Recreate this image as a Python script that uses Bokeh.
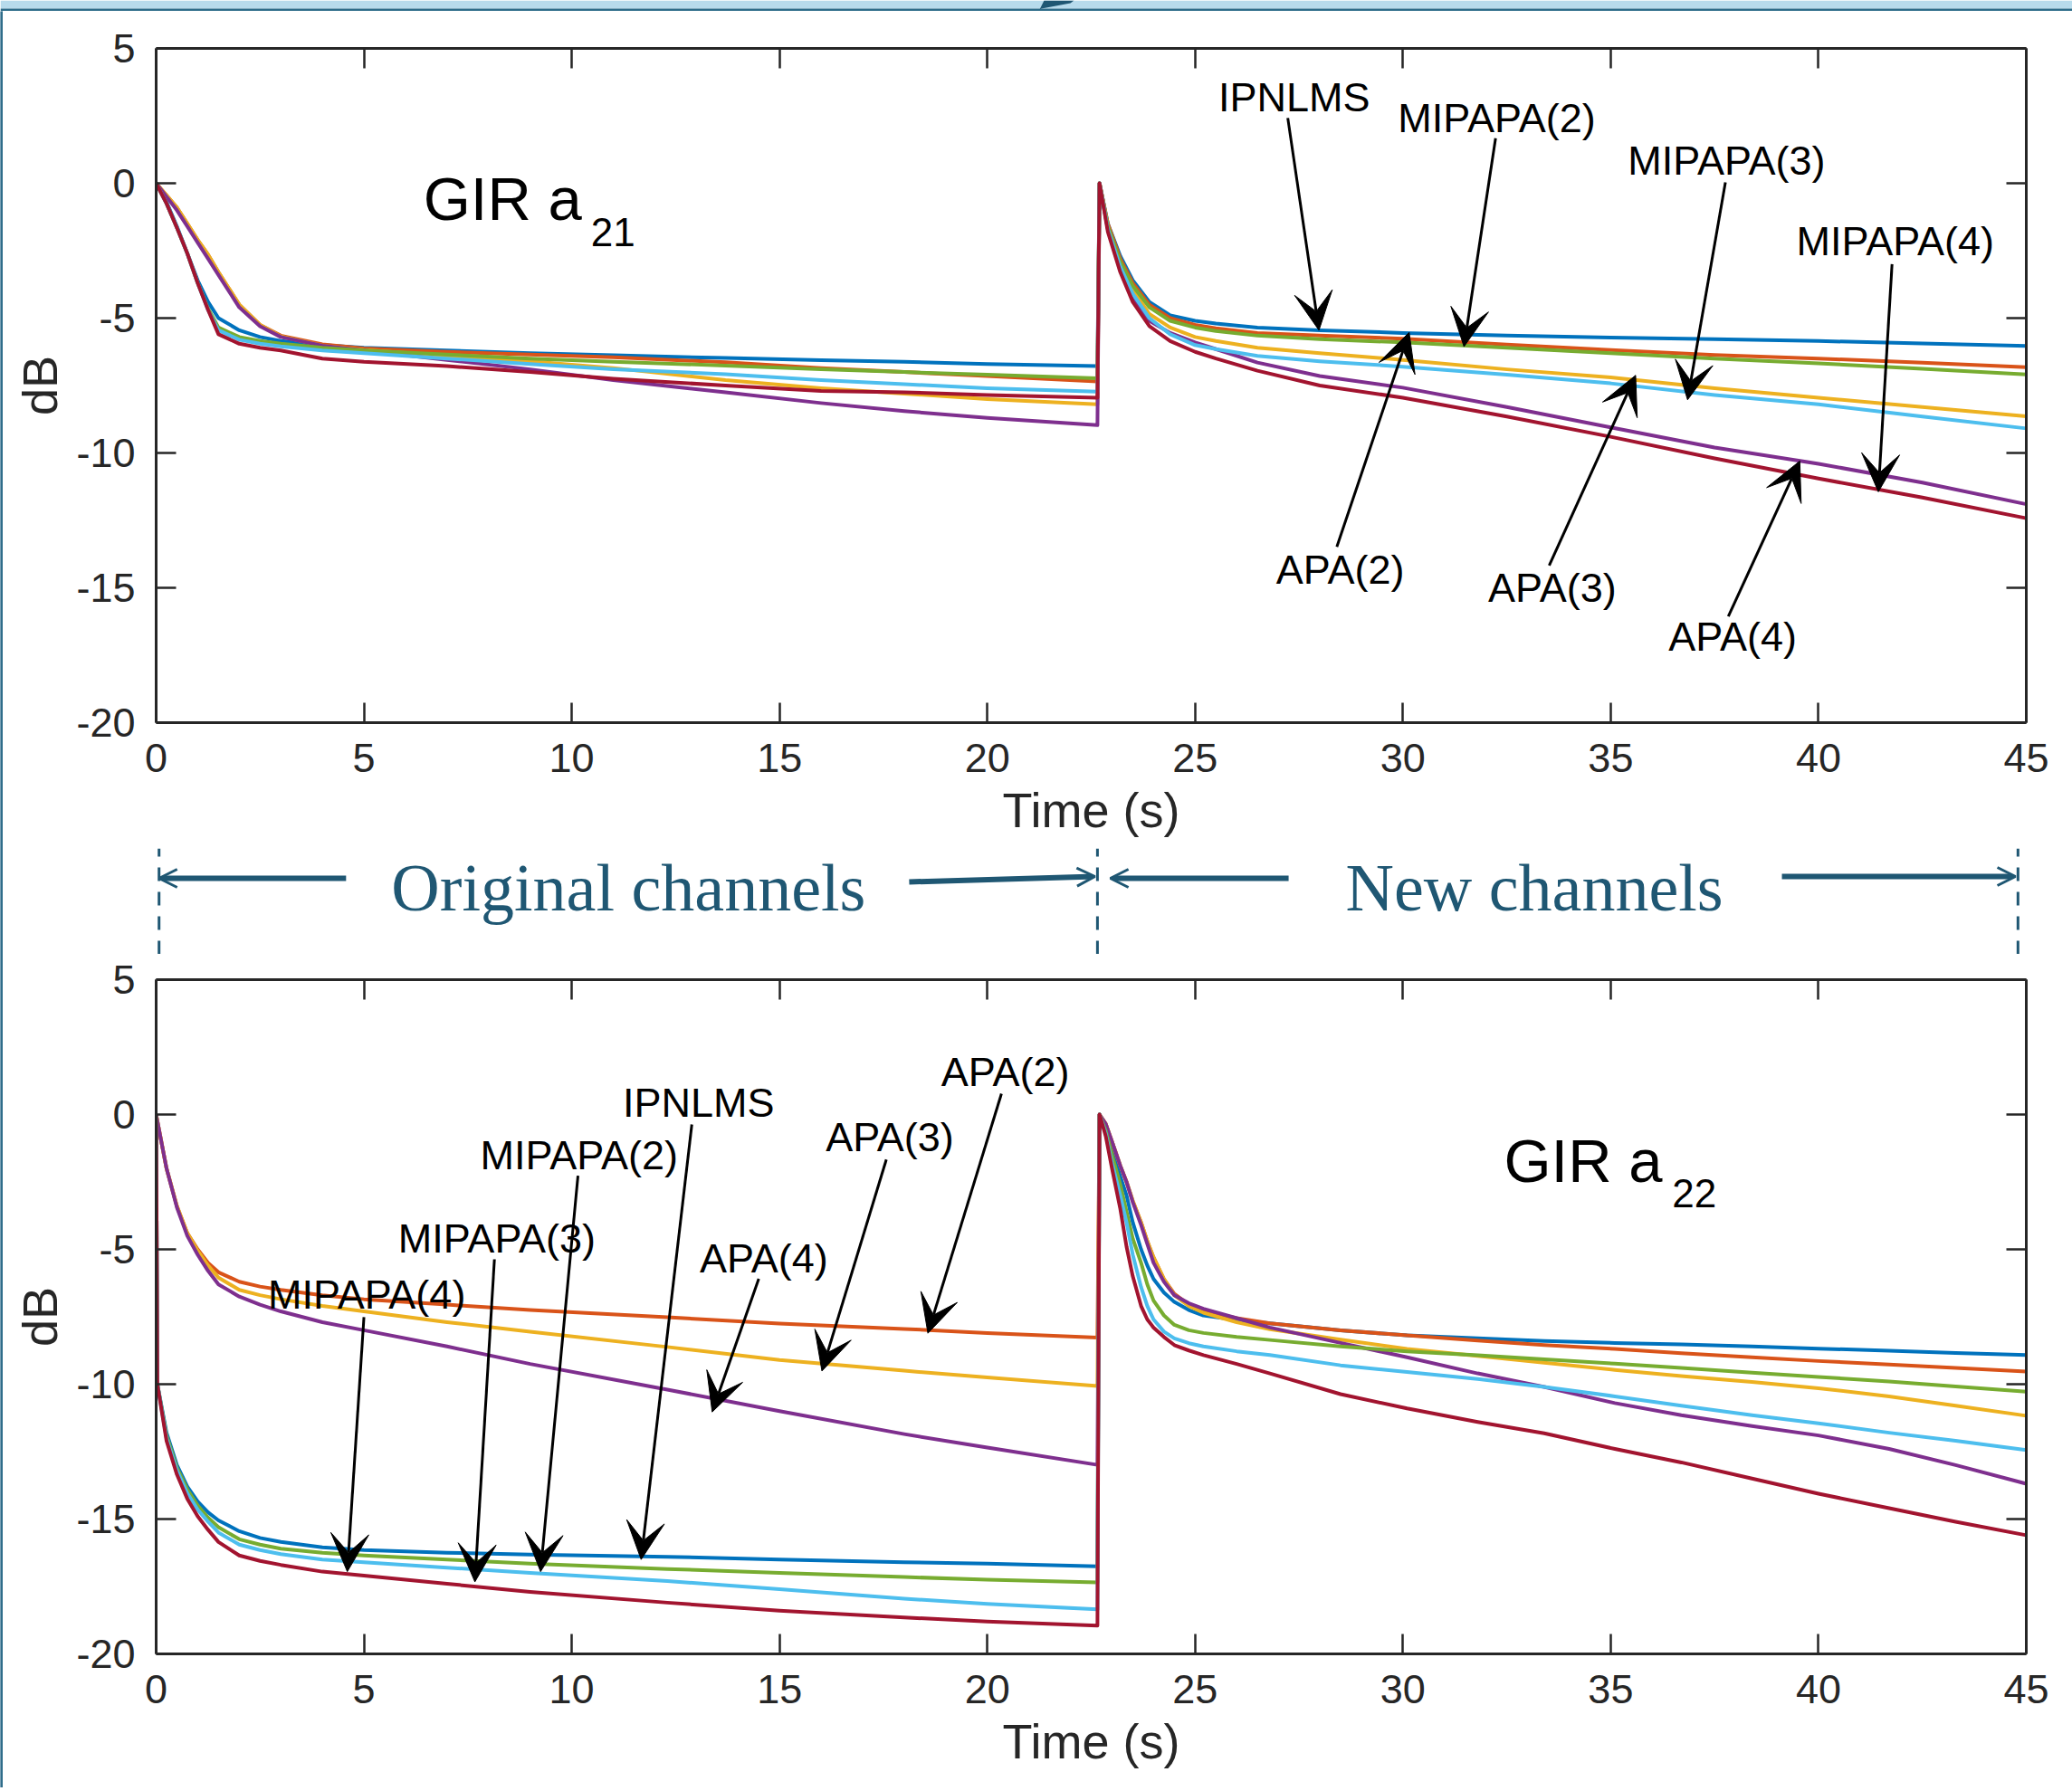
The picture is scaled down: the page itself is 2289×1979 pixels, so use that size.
from bokeh.plotting import figure
from bokeh.layouts import column, row
from bokeh.models import (Range1d, LinearAxis, SingleIntervalTicker, Arrow, VeeHead, OpenHead)
from bokeh.core.properties import value
from bokeh.embed import file_html
from bokeh.resources import INLINE

# ---------------- data ----------------
SERIES = ["IPNLMS", "APA(2)", "APA(3)", "APA(4)", "MIPAPA(2)", "MIPAPA(3)", "MIPAPA(4)"]
COLORS = ["#0072BD", "#D95319", "#EDB120", "#7E2F8E", "#77AC30", "#4DBEEE", "#A2142F"]

X_TICKS = [0, 5, 10, 15, 20, 25, 30, 35, 40, 45]
Y_TICKS = [-20, -15, -10, -5, 0, 5]
Y_TICK_TEXT = ["-20", "-15", "-10", "-5", "0", "5"]

# GIR a21 (top panel)
A21_TIME = [0, 0.25, 0.5, 0.75, 1.0, 1.25, 1.5, 2.0, 2.5, 3.0, 4.0, 5.0, 7.0, 9.0, 11.0, 13.7, 16.0, 18.0, 20.0, 22.65,
            22.7, 22.9, 23.2, 23.5, 23.9, 24.4, 25.0, 25.5, 26.5, 28.0, 30.0, 32.5, 35.0, 37.5, 40.0, 42.5, 45.0]
A21_IPNLMS = [0, -0.7, -1.6, -2.6, -3.6, -4.4, -5.0, -5.45, -5.7, -5.85, -6.0, -6.1, -6.2, -6.3, -6.38, -6.48, -6.56, -6.62, -6.7, -6.78,
              0, -1.5, -2.7, -3.6, -4.4, -4.9, -5.1, -5.2, -5.35, -5.45, -5.55, -5.65, -5.72, -5.78, -5.85, -5.94, -6.03]
A21_APA2 = [0, -0.45, -0.9, -1.5, -2.1, -2.65, -3.3, -4.5, -5.25, -5.65, -5.97, -6.12, -6.25, -6.35, -6.45, -6.64, -6.85, -7.0, -7.15, -7.35,
            0, -1.5, -2.8, -3.7, -4.5, -5.0, -5.25, -5.38, -5.55, -5.65, -5.76, -5.98, -6.18, -6.37, -6.5, -6.65, -6.82]
A21_APA3 = [0, -0.45, -0.9, -1.5, -2.1, -2.65, -3.3, -4.5, -5.25, -5.68, -6.02, -6.18, -6.4, -6.6, -6.85, -7.3, -7.6, -7.8, -8.0, -8.2,
            0, -1.6, -3.0, -3.95, -4.85, -5.35, -5.7, -5.85, -6.1, -6.3, -6.55, -6.9, -7.2, -7.6, -7.95, -8.3, -8.64]
A21_APA4 = [0, -0.5, -1.0, -1.6, -2.2, -2.8, -3.4, -4.6, -5.3, -5.7, -6.02, -6.2, -6.55, -6.9, -7.3, -7.75, -8.15, -8.45, -8.7, -8.97,
            0, -1.7, -3.2, -4.2, -5.1, -5.55, -5.9, -6.15, -6.65, -7.15, -7.58, -8.3, -9.05, -9.8, -10.4, -11.1, -11.9]
A21_MIPAPA2 = [0, -0.75, -1.65, -2.6, -3.7, -4.65, -5.35, -5.7, -5.85, -5.95, -6.1, -6.2, -6.35, -6.5, -6.62, -6.76, -6.9, -7.0, -7.1, -7.23,
               0, -1.6, -2.9, -3.8, -4.6, -5.1, -5.35, -5.48, -5.65, -5.78, -5.9, -6.1, -6.3, -6.5, -6.68, -6.88, -7.09]
A21_MIPAPA3 = [0, -0.75, -1.65, -2.6, -3.7, -4.7, -5.45, -5.8, -5.95, -6.05, -6.2, -6.3, -6.5, -6.7, -6.9, -7.08, -7.3, -7.45, -7.6, -7.73,
               0, -1.7, -3.1, -4.1, -5.0, -5.6, -6.0, -6.15, -6.4, -6.6, -6.8, -7.1, -7.42, -7.85, -8.2, -8.65, -9.09]
A21_MIPAPA4 = [0, -0.75, -1.65, -2.6, -3.7, -4.7, -5.6, -5.95, -6.1, -6.2, -6.5, -6.62, -6.78, -7.0, -7.25, -7.5, -7.7, -7.75, -7.85, -7.95,
               0, -1.8, -3.3, -4.4, -5.3, -5.85, -6.25, -6.5, -6.95, -7.5, -7.95, -8.65, -9.4, -10.2, -10.95, -11.65, -12.42]

# GIR a22 (bottom panel)
A22_TIME = [0, 0.03, 0.25, 0.5, 0.75, 1.0, 1.25, 1.5, 2.0, 2.5, 3.0, 4.0, 5.0, 7.0, 9.0, 12.3, 15.0, 18.0, 20.0, 22.65,
            22.7, 22.85, 23.0, 23.2, 23.35, 23.5, 23.7, 23.85, 24.0, 24.25, 24.5, 24.85, 25.2, 26.0, 26.8, 28.5, 30.1,
            31.8, 33.4, 35.1, 36.7, 38.4, 40.0, 41.7, 43.3, 45.0]
A22_IPNLMS = [0, -10.0, -11.8, -13.0, -13.8, -14.35, -14.75, -15.05, -15.45, -15.7, -15.85, -16.05, -16.15, -16.25, -16.32, -16.4, -16.5, -16.6, -16.65, -16.75,
              0, -0.5, -1.3, -2.3, -3.0, -4.0, -5.0, -5.6, -6.1, -6.6, -6.95, -7.25, -7.45, -7.62, -7.74, -8.0, -8.19,
              -8.3, -8.4, -8.47, -8.52, -8.6, -8.68, -8.76, -8.84, -8.92]
A22_APA2 = [0, -0.25, -2.0, -3.4, -4.4, -5.0, -5.5, -5.85, -6.2, -6.38, -6.5, -6.7, -6.85, -7.05, -7.25, -7.52, -7.75, -7.95, -8.1, -8.27,
            0, -0.35, -1.0, -1.9, -2.5, -3.2, -4.0, -4.7, -5.3, -6.1, -6.65, -7.05, -7.3, -7.55, -7.74, -8.0, -8.19,
            -8.38, -8.55, -8.69, -8.85, -9.0, -9.14, -9.27, -9.4, -9.53]
A22_APA3 = [0, -0.25, -2.0, -3.4, -4.4, -5.05, -5.6, -6.05, -6.5, -6.7, -6.85, -7.1, -7.3, -7.7, -8.05, -8.62, -9.1, -9.5, -9.75, -10.07,
            0, -0.35, -1.0, -1.9, -2.5, -3.2, -4.0, -4.7, -5.3, -6.1, -6.7, -7.1, -7.35, -7.7, -7.96, -8.35, -8.69,
            -8.95, -9.2, -9.47, -9.7, -9.92, -10.15, -10.45, -10.8, -11.17]
A22_APA4 = [0, -0.25, -2.0, -3.45, -4.5, -5.2, -5.8, -6.3, -6.75, -7.05, -7.3, -7.7, -8.0, -8.6, -9.25, -10.2, -11.0, -11.85, -12.35, -12.99,
            0, -0.35, -1.0, -1.9, -2.5, -3.25, -4.1, -4.8, -5.5, -6.2, -6.7, -7.0, -7.2, -7.55, -7.9, -8.47, -9.0,
            -9.6, -10.1, -10.7, -11.15, -11.55, -11.9, -12.4, -13.0, -13.69]
A22_MIPAPA2 = [0, -10.0, -11.9, -13.1, -13.9, -14.5, -14.95, -15.3, -15.75, -15.95, -16.1, -16.25, -16.35, -16.5, -16.65, -16.85, -17.0, -17.15, -17.25, -17.35,
               0, -0.6, -1.5, -2.6, -3.6, -4.6, -5.5, -6.3, -6.9, -7.45, -7.8, -8.0, -8.1, -8.25, -8.36, -8.6, -8.78,
               -8.93, -9.08, -9.24, -9.4, -9.57, -9.73, -9.9, -10.08, -10.28]
A22_MIPAPA3 = [0, -10.0, -12.0, -13.2, -14.05, -14.65, -15.1, -15.5, -15.95, -16.15, -16.3, -16.5, -16.6, -16.8, -17.0, -17.3, -17.6, -17.95, -18.15, -18.35,
               0, -0.7, -1.8, -3.0, -4.0, -5.2, -6.4, -7.1, -7.6, -8.05, -8.3, -8.48, -8.6, -8.78, -8.92, -9.3, -9.55,
               -9.81, -10.1, -10.45, -10.8, -11.15, -11.45, -11.8, -12.1, -12.44]
A22_MIPAPA4 = [0, -10.0, -12.1, -13.35, -14.25, -14.9, -15.4, -15.85, -16.35, -16.55, -16.7, -16.95, -17.1, -17.4, -17.7, -18.1, -18.4, -18.65, -18.8, -18.95,
               0, -0.8, -2.0, -3.5, -4.9, -6.0, -7.1, -7.6, -7.9, -8.25, -8.55, -8.75, -8.92, -9.25, -9.6, -10.37, -10.9,
               -11.4, -11.82, -12.4, -12.9, -13.5, -14.06, -14.6, -15.1, -15.6]

A21_VALUES = [A21_IPNLMS, A21_APA2, A21_APA3, A21_APA4, A21_MIPAPA2, A21_MIPAPA3, A21_MIPAPA4]
A22_VALUES = [A22_IPNLMS, A22_APA2, A22_APA3, A22_APA4, A22_MIPAPA2, A22_MIPAPA3, A22_MIPAPA4]

# annotation texts
A21_LABELS = ["IPNLMS", "MIPAPA(2)", "MIPAPA(3)", "MIPAPA(4)", "APA(2)", "APA(3)", "APA(4)"]
A22_LABELS = ["APA(2)", "APA(3)", "APA(4)", "IPNLMS", "MIPAPA(2)", "MIPAPA(3)", "MIPAPA(4)"]
BAND_LABELS = ["Original channels", "New channels"]

# ---------------- layout / style ----------------
W = 2289
FONT = "Liberation Sans"
AX = "#262626"
TEAL = "#1f5773"
FRAME = "#2f6d8a"
LIGHT = "#b7dbec"
PX_PER_DB = 745 / 25.0

# annotation placement (time, dB)
A21_TXT = [(25.56, 2.65), (29.88, 1.89), (35.41, 0.30), (39.47, -2.7), (26.95, -14.85), (32.05, -15.53), (36.39, -17.35)]
A21_ARR = [((27.23, 2.42), (27.98, -5.45)), ((32.23, 1.67), (31.47, -6.06)), ((37.76, 0.03), (36.85, -8.03)),
           ((41.77, -3.0), (41.44, -11.44)), ((28.41, -13.48), (30.15, -5.53)), ((33.52, -14.17), (35.6, -7.12)),
           ((37.83, -16.06), (39.55, -10.3))]
A22_TXT = [(18.89, 1.03), (16.11, -1.37), (13.08, -5.87), (11.23, -0.1), (7.8, -2.05), (5.82, -5.12), (2.69, -7.21)]
A22_ARR = [((20.34, 0.77), (18.57, -8.11)), ((17.57, -1.67), (16.02, -9.51)), ((14.5, -6.09), (13.38, -11.03)),
           ((12.89, -0.37), (11.67, -16.5)), ((10.15, -2.27), (9.25, -16.95)), ((8.14, -5.37), (7.67, -17.33)),
           ((5.0, -7.51), (4.6, -16.95))]

LBL_SHIFT = 16 / PX_PER_DB     # baseline correction for 45px labels
TTL_SHIFT = 21 / PX_PER_DB     # baseline correction for title texts


def style_axis(ax, labels=True):
    ax.axis_line_color = AX
    ax.axis_line_width = 3
    ax.major_tick_line_color = AX
    ax.major_tick_line_width = 2.5
    ax.major_tick_in = 22
    ax.major_tick_out = 0
    ax.minor_tick_line_color = None
    if labels:
        ax.major_label_text_font = FONT
        ax.major_label_text_font_size = "45px"
        ax.major_label_text_color = AX
        ax.major_label_standoff = 19
        ax.axis_label_text_font = FONT
        ax.axis_label_text_font_size = "54px"
        ax.axis_label_text_font_style = "normal"
        ax.axis_label_text_color = AX
    else:
        ax.major_label_text_font_size = "0px"
        ax.major_label_text_color = None
        ax.major_label_standoff = 0


def make_panel(height, btop, bbottom, times, values, labels, txt, arr, title, sub, tpos, spos):
    p = figure(width=W - 3, height=height, x_range=Range1d(0, 45), y_range=Range1d(-20, 5),
               output_backend="svg", toolbar_location=None,
               x_axis_location=None, y_axis_location=None,
               min_border_left=172 - 3, min_border_right=W - 2238,
               min_border_top=btop, min_border_bottom=bbottom)
    p.outline_line_color = None
    p.grid.visible = False
    p.background_fill_color = "white"
    p.border_fill_color = "white"

    xt = SingleIntervalTicker(interval=5)
    yt = SingleIntervalTicker(interval=5)
    xb = LinearAxis(ticker=xt, axis_label="Time (s)")
    style_axis(xb)
    xb.axis_label_standoff = 9
    p.add_layout(xb, "below")
    xa = LinearAxis(ticker=xt)
    style_axis(xa, labels=False)
    p.add_layout(xa, "above")
    yl = LinearAxis(ticker=yt, axis_label="dB",
                    major_label_overrides={t: s for t, s in zip(Y_TICKS, Y_TICK_TEXT)})
    style_axis(yl)
    yl.axis_label_standoff = 7
    p.add_layout(yl, "left")
    yr = LinearAxis(ticker=yt)
    style_axis(yr, labels=False)
    p.add_layout(yr, "right")

    for vals, c in zip(values, COLORS):
        p.line(times, vals, line_color=c, line_width=4, line_join="round")

    p.text(x=[q[0] for q in txt], y=[q[1] + LBL_SHIFT for q in txt], text=labels,
           text_font=value(FONT), text_font_size=value("45px"), text_color="black",
           text_align="left", text_baseline="alphabetic")
    for (s, e) in arr:
        p.add_layout(Arrow(x_start=s[0], y_start=s[1], x_end=e[0], y_end=e[1],
                           line_color="black", line_width=3,
                           end=VeeHead(size=42, fill_color="black", line_color="black", line_width=1)))
    p.text(x=[tpos[0]], y=[tpos[1] + TTL_SHIFT], text=[title], text_font=value(FONT),
           text_font_size=value("67px"), text_color="black", text_align="left", text_baseline="alphabetic")
    p.text(x=[spos[0]], y=[spos[1] + TTL_SHIFT], text=[sub], text_font=value(FONT),
           text_font_size=value("44px"), text_color="black", text_align="left", text_baseline="alphabetic")
    return p


def plain(width, height, xr, yr):
    f = figure(width=width, height=height, x_range=xr, y_range=yr, output_backend="svg",
               toolbar_location=None, x_axis_location=None, y_axis_location=None,
               min_border=0, min_border_left=0, min_border_right=0, min_border_top=0, min_border_bottom=0)
    f.outline_line_color = None
    f.grid.visible = False
    return f


TOP_Y0 = 12
MID_Y0 = 937
BOT_Y0 = 1054
PAGE_Y1 = 1975
TOP_H, MID_H, BOT_H = MID_Y0 - TOP_Y0, BOT_Y0 - MID_Y0, PAGE_Y1 - BOT_Y0

top = make_panel(TOP_H, 53 - TOP_Y0, MID_Y0 - 798, A21_TIME, A21_VALUES, A21_LABELS, A21_TXT, A21_ARR,
                 "GIR a", "21", (6.43, -1.28), (10.46, -2.52))
bot = make_panel(BOT_H, 1082 - BOT_Y0, PAGE_Y1 - 1827, A22_TIME, A22_VALUES, A22_LABELS,
                 A22_TXT, A22_ARR, "GIR a", "22", (32.43, -2.42), (36.48, -3.62))

# middle band: channel periods (vertical axis in pixels from the band bottom)
mid = plain(W - 3, MID_H, Range1d(0, 45), Range1d(0, MID_H))
mid.min_border_left = 172 - 3
mid.min_border_right = W - 2238
mid.border_fill_color = "white"
mid.segment(x0=[0.07, 22.65, 44.8], y0=[0, 0, 0], x1=[0.07, 22.65, 44.8], y1=[MID_H, MID_H, MID_H],
            line_color=TEAL, line_width=3, line_dash="15 12")
ARR_Y = BOT_Y0 - 970
for xs, ys, xe, ye in [(4.57, ARR_Y, 0.07, ARR_Y), (18.12, ARR_Y - 4, 22.59, ARR_Y + 2),
                       (27.25, ARR_Y, 22.96, ARR_Y), (39.12, ARR_Y + 2, 44.74, ARR_Y + 2)]:
    mid.add_layout(Arrow(x_start=xs, y_start=ys, x_end=xe, y_end=ye, line_color=TEAL, line_width=6,
                         end=OpenHead(size=20, line_color=TEAL, line_width=3)))
TXT_Y = BOT_Y0 - 1004 + 24
mid.text(x=[5.66, 28.62], y=[TXT_Y, TXT_Y], text=BAND_LABELS, text_font=value("Liberation Serif"),
         text_font_size=value("74px"), text_color=TEAL, text_align="left", text_baseline="alphabetic")

# page frame: header band, left and bottom borders
band = plain(W, TOP_Y0, Range1d(0, W), Range1d(TOP_Y0, 0))
band.quad(left=[0, 0], right=[W, W], top=[0, 9], bottom=[9, TOP_Y0], fill_color=[LIGHT, FRAME], line_color=None)
band.patch(x=[1153, 1186, 1182, 1150, 1148], y=[0, 0, 3, 9, 10], fill_color=TEAL, line_color=None)
left_strip = plain(3, PAGE_Y1 - TOP_Y0, Range1d(0, 1), Range1d(0, 1))
left_strip.background_fill_color = FRAME
left_strip.border_fill_color = FRAME
left_strip.quad(left=[0], right=[1], top=[1], bottom=[0], fill_color=FRAME, line_color=None)
bottom_strip = plain(W, 4, Range1d(0, 1), Range1d(0, 1))
bottom_strip.background_fill_color = FRAME
bottom_strip.border_fill_color = FRAME
bottom_strip.quad(left=[0], right=[1], top=[1], bottom=[0], fill_color=FRAME, line_color=None)

layout = column(band, row(left_strip, column(top, mid, bot, spacing=0), spacing=0), bottom_strip, spacing=0)
open("out.html", "w").write(file_html(layout, INLINE))
